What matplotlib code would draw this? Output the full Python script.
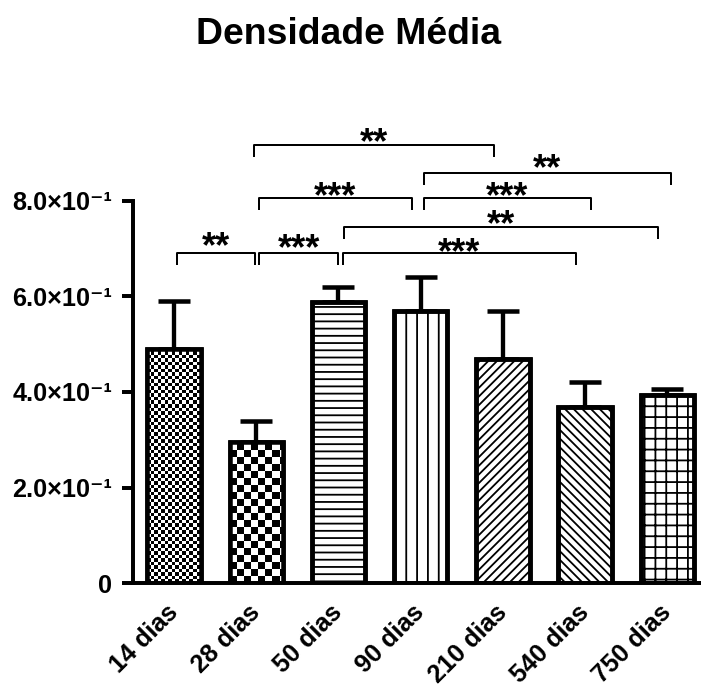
import numpy as np
import matplotlib
matplotlib.use("Agg")
import matplotlib.pyplot as plt

plt.rcParams["font.family"] = ["Liberation Sans", "DejaVu Sans"]
plt.rcParams["hatch.linewidth"] = 1.0

# ---- data ----
groups = ["14 dias", "28 dias", "50 dias", "90 dias", "210 dias", "540 dias", "750 dias"]
means = [0.490, 0.296, 0.589, 0.570, 0.469, 0.368, 0.394]
sems = [0.100, 0.044, 0.031, 0.070, 0.101, 0.052, 0.012]
yticks = [0.0, 0.2, 0.4, 0.6, 0.8]
ytick_labels = ["0", "2.0×10⁻¹", "4.0×10⁻¹", "6.0×10⁻¹", "8.0×10⁻¹"]

# significance brackets: (x start, x end, bracket height, label)
brackets = [
    (0.03, 0.99, 0.690, "**"),
    (1.03, 2.00, 0.690, "***"),
    (2.05, 4.89, 0.690, "***"),
    (2.07, 5.89, 0.746, "**"),
    (1.03, 2.89, 0.806, "***"),
    (3.04, 5.07, 0.806, "***"),
    (3.04, 6.04, 0.858, "**"),
    (0.97, 3.89, 0.917, "**"),
]
# vertical position of each label (glyph centre)
label_centres = [0.722, 0.718, 0.709, 0.768, 0.827, 0.827, 0.885, 0.940]

# fill patterns per bar; None -> checkerboard texture (cell size in px)
hatches = [None, None, "---", "||", "/////", "\\\\\\\\\\", "++"]
checker_px = {0: 3.5, 1: 7.0}

DPI = 130
W, H = 701, 689
fig = plt.figure(figsize=(W / DPI, H / DPI), dpi=DPI)
ax_left, ax_bottom_px, ax_top_px = 133, 583.3, 200.7
ax = fig.add_axes([ax_left / W, 1 - ax_bottom_px / H, 1 - ax_left / W,
                   (ax_bottom_px - ax_top_px) / H])

x = np.arange(len(groups))
bar_w = 0.65
ax.set_xlim(-0.5, 6.41)
ax.set_ylim(0, 0.8)

# error bars (upper only), drawn beneath the bars
ax.errorbar(x, means, yerr=[np.zeros(len(x)), sems], fmt="none", ecolor="black",
            elinewidth=2.4, capsize=8.9, capthick=2.5, zorder=1)

bars = ax.bar(x, means, width=bar_w, color="white", edgecolor="black",
              linewidth=2.5, zorder=2)
for b, h in zip(bars, hatches):
    if h:
        b.set_hatch(h)

# checkerboard textures
fig.canvas.draw()
px_x = ax.transData.transform((1, 0))[0] - ax.transData.transform((0, 0))[0]
px_y = ax.transData.transform((0, 1))[1] - ax.transData.transform((0, 0))[1]
for i, cell in checker_px.items():
    b = bars[i]
    x0, wdt, hgt = b.get_x(), b.get_width(), b.get_height()
    cx, cy = cell / px_x, cell / px_y
    nx = int(np.ceil(wdt / cx))
    ny = int(np.ceil(hgt / cy))
    board = (np.add.outer(np.arange(ny), np.arange(nx)) % 2).astype(float)
    im = ax.imshow(board, cmap="gray", vmin=0, vmax=1, interpolation="nearest",
                   extent=(x0, x0 + nx * cx, 0, ny * cy), origin="lower",
                   aspect="auto", zorder=2.5)
    im.set_clip_path(b)

# outlines on top of the textures
ax.bar(x, means, width=bar_w, fill=False, edgecolor="black", linewidth=2.5, zorder=3)
ax.set_xlim(-0.5, 6.41)
ax.set_ylim(0, 0.8)

# axes styling
for s in ("top", "right"):
    ax.spines[s].set_visible(False)
for s in ("left", "bottom"):
    ax.spines[s].set_linewidth(2.2)
ax.set_yticks(yticks)
ax.set_yticklabels(ytick_labels, fontsize=14, fontweight="bold")
ax.tick_params(axis="y", length=6.1, width=2.2, pad=5.5)
ax.set_xticks(x)
ax.set_xticklabels(groups, fontsize=14, fontweight="bold", rotation=45,
                   ha="right", va="center", rotation_mode="anchor")
ax.tick_params(axis="x", length=0, pad=14)

# significance brackets
leg = 0.023
for (x0, x1, y, lab), yc in zip(brackets, label_centres):
    ax.plot([x0, x0, x1, x1], [y - leg, y, y, y - leg], color="black",
            linewidth=1.1, clip_on=False, zorder=4)
    ax.text((x0 + x1) / 2, yc - 0.040, lab, ha="center", va="baseline",
            fontsize=20, fontweight="bold", clip_on=False)

fig.text(0.497, 1 - 44 / H, "Densidade Média", ha="center", va="baseline",
         fontsize=20.7, fontweight="bold")

fig.savefig("out.png", dpi=DPI)
